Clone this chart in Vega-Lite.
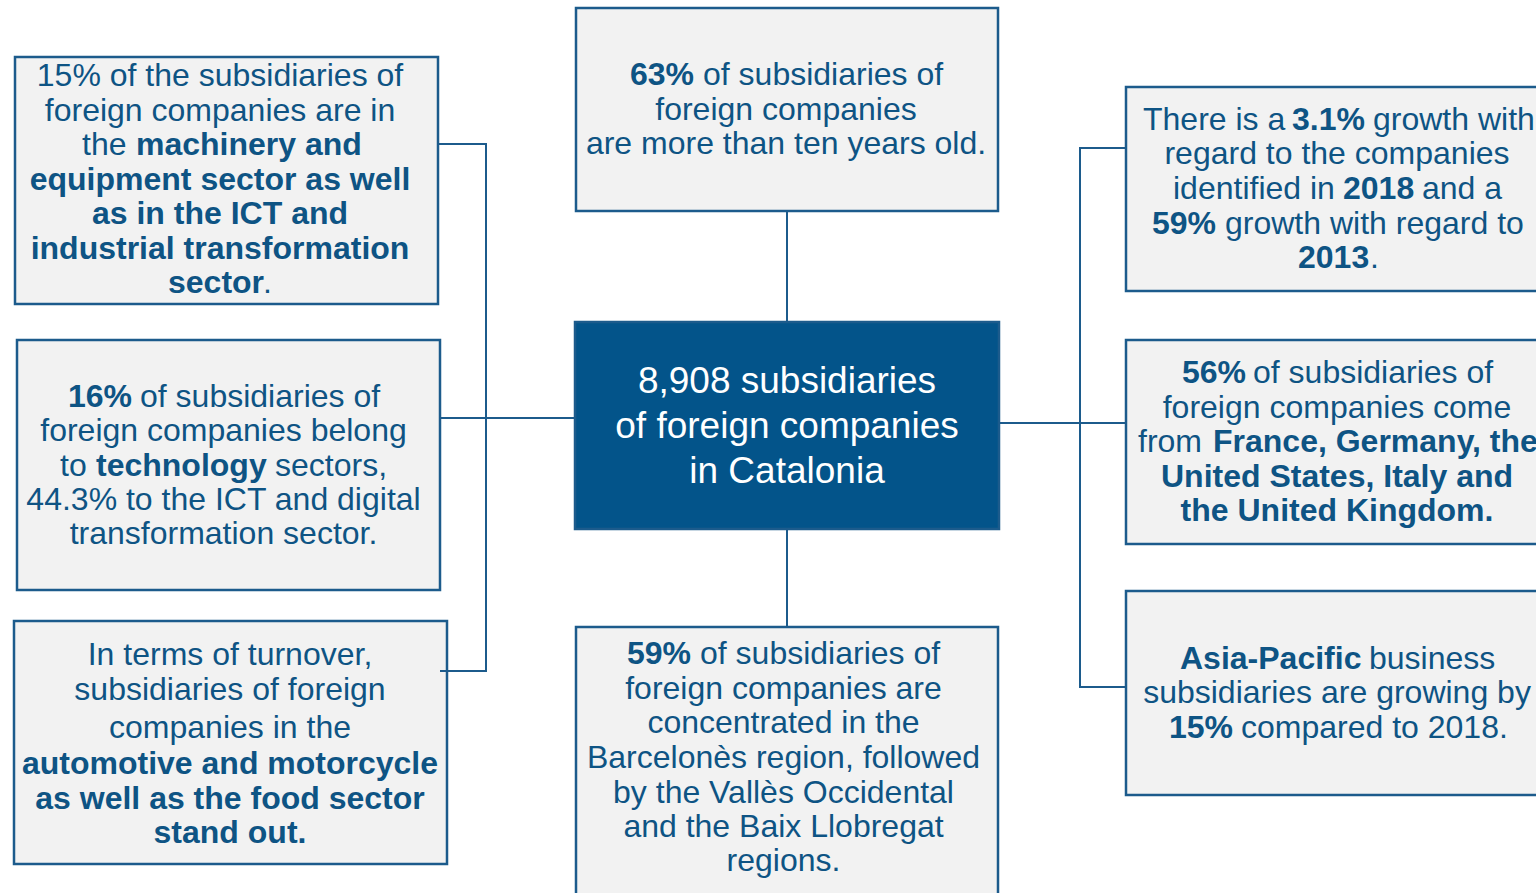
{
  "$schema": "https://vega.github.io/schema/vega-lite/v6.json",
  "width": 1536,
  "height": 893,
  "autosize": {"type": "none"},
  "padding": 0,
  "background": "#ffffff",
  "config": {"view": {"stroke": null}},
  "datasets": {
    "boxes": [
      {"box": "machinery", "kind": "note", "x": 15, "x2": 438, "y": 57, "y2": 304},
      {"box": "technology", "kind": "note", "x": 17, "x2": 440, "y": 340, "y2": 590},
      {"box": "turnover", "kind": "note", "x": 14, "x2": 447, "y": 621, "y2": 864},
      {"box": "age", "kind": "note", "x": 576, "x2": 998, "y": 8, "y2": 211},
      {"box": "hub", "kind": "hub", "x": 575, "x2": 999, "y": 322, "y2": 529},
      {"box": "regions", "kind": "note", "x": 576, "x2": 998, "y": 627, "y2": 905},
      {"box": "growth", "kind": "note", "x": 1126, "x2": 1550, "y": 87, "y2": 291},
      {"box": "origin", "kind": "note", "x": 1126, "x2": 1550, "y": 340, "y2": 544},
      {"box": "asia", "kind": "note", "x": 1126, "x2": 1550, "y": 591, "y2": 795}
    ],
    "links": [
      {"x": 438, "y": 144, "x2": 486, "y2": 144},
      {"x": 486, "y": 144, "x2": 486, "y2": 671},
      {"x": 441, "y": 671, "x2": 486, "y2": 671},
      {"x": 440, "y": 418, "x2": 575, "y2": 418},
      {"x": 787, "y": 211, "x2": 787, "y2": 322},
      {"x": 787, "y": 529, "x2": 787, "y2": 627},
      {"x": 999, "y": 423, "x2": 1126, "y2": 423},
      {"x": 1080, "y": 148, "x2": 1126, "y2": 148},
      {"x": 1080, "y": 148, "x2": 1080, "y2": 687},
      {"x": 1080, "y": 687, "x2": 1126, "y2": 687}
    ],
    "lines": [
      {"box": "machinery", "x": 220, "y": 86, "text": "15% of the subsidiaries of", "bold": false, "anchor": "center"},
      {"box": "machinery", "x": 220, "y": 121, "text": "foreign companies are in", "bold": false, "anchor": "center"},
      {"box": "machinery", "x": 82, "y": 155, "text": "the", "bold": false, "anchor": "left"},
      {"box": "machinery", "x": 136, "y": 155, "text": "machinery and", "bold": true, "anchor": "left"},
      {"box": "machinery", "x": 220, "y": 190, "text": "equipment sector as well", "bold": true, "anchor": "center"},
      {"box": "machinery", "x": 220, "y": 224, "text": "as in the ICT and", "bold": true, "anchor": "center"},
      {"box": "machinery", "x": 220, "y": 259, "text": "industrial transformation", "bold": true, "anchor": "center"},
      {"box": "machinery", "x": 168, "y": 293, "text": "sector", "bold": true, "anchor": "left"},
      {"box": "machinery", "x": 263, "y": 293, "text": ".", "bold": false, "anchor": "left"},

      {"box": "technology", "x": 68, "y": 407, "text": "16%", "bold": true, "anchor": "left"},
      {"box": "technology", "x": 140, "y": 407, "text": "of subsidiaries of", "bold": false, "anchor": "left"},
      {"box": "technology", "x": 223.5, "y": 441, "text": "foreign companies belong", "bold": false, "anchor": "center"},
      {"box": "technology", "x": 60, "y": 476, "text": "to", "bold": false, "anchor": "left"},
      {"box": "technology", "x": 96, "y": 476, "text": "technology", "bold": true, "anchor": "left"},
      {"box": "technology", "x": 275, "y": 476, "text": "sectors,", "bold": false, "anchor": "left"},
      {"box": "technology", "x": 223.5, "y": 510, "text": "44.3% to the ICT and digital", "bold": false, "anchor": "center"},
      {"box": "technology", "x": 223.5, "y": 544, "text": "transformation sector.", "bold": false, "anchor": "center"},

      {"box": "turnover", "x": 230, "y": 665, "text": "In terms of turnover,", "bold": false, "anchor": "center"},
      {"box": "turnover", "x": 230, "y": 700, "text": "subsidiaries of foreign", "bold": false, "anchor": "center"},
      {"box": "turnover", "x": 230, "y": 738, "text": "companies in the", "bold": false, "anchor": "center"},
      {"box": "turnover", "x": 230, "y": 774, "text": "automotive and motorcycle", "bold": true, "anchor": "center"},
      {"box": "turnover", "x": 230, "y": 809, "text": "as well as the food sector", "bold": true, "anchor": "center"},
      {"box": "turnover", "x": 230, "y": 843, "text": "stand out.", "bold": true, "anchor": "center"},

      {"box": "age", "x": 630, "y": 85, "text": "63%", "bold": true, "anchor": "left"},
      {"box": "age", "x": 703, "y": 85, "text": "of subsidiaries of", "bold": false, "anchor": "left"},
      {"box": "age", "x": 786, "y": 120, "text": "foreign companies", "bold": false, "anchor": "center"},
      {"box": "age", "x": 786, "y": 154, "text": "are more than ten years old.", "bold": false, "anchor": "center"},

      {"box": "hub", "x": 787, "y": 393, "text": "8,908 subsidiaries", "bold": false, "anchor": "center"},
      {"box": "hub", "x": 787, "y": 438, "text": "of foreign companies", "bold": false, "anchor": "center"},
      {"box": "hub", "x": 787, "y": 483, "text": "in Catalonia", "bold": false, "anchor": "center"},

      {"box": "regions", "x": 627, "y": 664, "text": "59%", "bold": true, "anchor": "left"},
      {"box": "regions", "x": 700, "y": 664, "text": "of subsidiaries of", "bold": false, "anchor": "left"},
      {"box": "regions", "x": 783.5, "y": 699, "text": "foreign companies are", "bold": false, "anchor": "center"},
      {"box": "regions", "x": 783.5, "y": 733, "text": "concentrated in the", "bold": false, "anchor": "center"},
      {"box": "regions", "x": 783.5, "y": 768, "text": "Barcelonès region, followed", "bold": false, "anchor": "center"},
      {"box": "regions", "x": 783.5, "y": 803, "text": "by the Vallès Occidental", "bold": false, "anchor": "center"},
      {"box": "regions", "x": 783.5, "y": 837, "text": "and the Baix Llobregat", "bold": false, "anchor": "center"},
      {"box": "regions", "x": 783.5, "y": 871, "text": "regions.", "bold": false, "anchor": "center"},

      {"box": "growth", "x": 1143, "y": 130, "text": "There is a", "bold": false, "anchor": "left"},
      {"box": "growth", "x": 1292, "y": 130, "text": "3.1%", "bold": true, "anchor": "left"},
      {"box": "growth", "x": 1373, "y": 130, "text": "growth with", "bold": false, "anchor": "left"},
      {"box": "growth", "x": 1337, "y": 164, "text": "regard to the companies", "bold": false, "anchor": "center"},
      {"box": "growth", "x": 1173, "y": 199, "text": "identified in", "bold": false, "anchor": "left"},
      {"box": "growth", "x": 1343, "y": 199, "text": "2018", "bold": true, "anchor": "left"},
      {"box": "growth", "x": 1422, "y": 199, "text": "and a", "bold": false, "anchor": "left"},
      {"box": "growth", "x": 1152, "y": 234, "text": "59%", "bold": true, "anchor": "left"},
      {"box": "growth", "x": 1225, "y": 234, "text": "growth with regard to", "bold": false, "anchor": "left"},
      {"box": "growth", "x": 1298, "y": 268, "text": "2013", "bold": true, "anchor": "left"},
      {"box": "growth", "x": 1370, "y": 268, "text": ".", "bold": false, "anchor": "left"},

      {"box": "origin", "x": 1182, "y": 383, "text": "56%", "bold": true, "anchor": "left"},
      {"box": "origin", "x": 1253, "y": 383, "text": "of subsidiaries of", "bold": false, "anchor": "left"},
      {"box": "origin", "x": 1337, "y": 418, "text": "foreign companies come", "bold": false, "anchor": "center"},
      {"box": "origin", "x": 1138, "y": 452, "text": "from", "bold": false, "anchor": "left"},
      {"box": "origin", "x": 1213, "y": 452, "text": "France, Germany, the", "bold": true, "anchor": "left"},
      {"box": "origin", "x": 1337, "y": 487, "text": "United States, Italy and", "bold": true, "anchor": "center"},
      {"box": "origin", "x": 1337, "y": 521, "text": "the United Kingdom.", "bold": true, "anchor": "center"},

      {"box": "asia", "x": 1180, "y": 669, "text": "Asia-Pacific", "bold": true, "anchor": "left"},
      {"box": "asia", "x": 1369, "y": 669, "text": "business", "bold": false, "anchor": "left"},
      {"box": "asia", "x": 1337, "y": 703, "text": "subsidiaries are growing by", "bold": false, "anchor": "center"},
      {"box": "asia", "x": 1169, "y": 738, "text": "15%", "bold": true, "anchor": "left"},
      {"box": "asia", "x": 1241, "y": 738, "text": "compared to 2018.", "bold": false, "anchor": "left"}
    ]
  },
  "encoding": {
    "x": {"field": "x", "type": "quantitative", "axis": null, "scale": {"domain": [0, 1536], "nice": false, "zero": false}},
    "y": {"field": "y", "type": "quantitative", "axis": null, "scale": {"domain": [0, 893], "nice": false, "zero": false, "reverse": true}}
  },
  "layer": [
    {
      "data": {"name": "boxes"},
      "mark": {"type": "rect", "stroke": "#1c5b8c", "strokeWidth": 2.5},
      "encoding": {
        "x2": {"field": "x2"},
        "y2": {"field": "y2"},
        "fill": {"field": "kind", "type": "nominal", "legend": null, "scale": {"domain": ["note", "hub"], "range": ["#f2f2f2", "#03548a"]}}
      }
    },
    {
      "data": {"name": "links"},
      "mark": {"type": "rule", "color": "#1c5b8c", "strokeWidth": 2, "strokeCap": "square"},
      "encoding": {
        "x2": {"field": "x2"},
        "y2": {"field": "y2"}
      }
    },
    {
      "data": {"name": "lines"},
      "transform": [{"filter": "datum.box != 'hub' && !datum.bold && datum.anchor == 'center'"}],
      "mark": {"type": "text", "font": "Liberation Sans", "fontSize": 32, "align": "center", "baseline": "alphabetic", "color": "#0e5484"},
      "encoding": {"text": {"field": "text"}}
    },
    {
      "data": {"name": "lines"},
      "transform": [{"filter": "datum.box != 'hub' && !datum.bold && datum.anchor == 'left'"}],
      "mark": {"type": "text", "font": "Liberation Sans", "fontSize": 32, "align": "left", "baseline": "alphabetic", "color": "#0e5484"},
      "encoding": {"text": {"field": "text"}}
    },
    {
      "data": {"name": "lines"},
      "transform": [{"filter": "datum.box != 'hub' && datum.bold && datum.anchor == 'center'"}],
      "mark": {"type": "text", "font": "Liberation Sans", "fontSize": 32, "fontWeight": "bold", "align": "center", "baseline": "alphabetic", "color": "#0e5484"},
      "encoding": {"text": {"field": "text"}}
    },
    {
      "data": {"name": "lines"},
      "transform": [{"filter": "datum.box != 'hub' && datum.bold && datum.anchor == 'left'"}],
      "mark": {"type": "text", "font": "Liberation Sans", "fontSize": 32, "fontWeight": "bold", "align": "left", "baseline": "alphabetic", "color": "#0e5484"},
      "encoding": {"text": {"field": "text"}}
    },
    {
      "data": {"name": "lines"},
      "transform": [{"filter": "datum.box == 'hub'"}],
      "mark": {"type": "text", "font": "Liberation Sans", "fontSize": 37, "align": "center", "baseline": "alphabetic", "color": "#ffffff"},
      "encoding": {"text": {"field": "text"}}
    }
  ]
}
